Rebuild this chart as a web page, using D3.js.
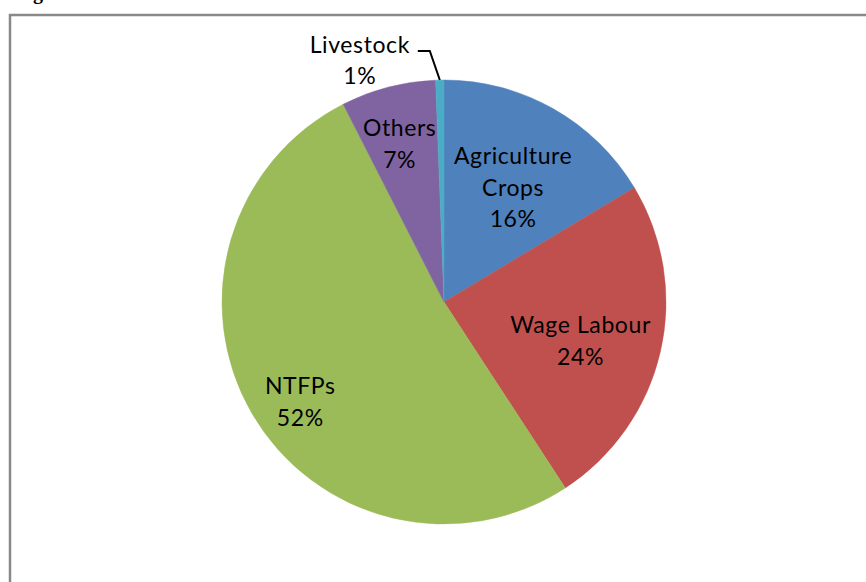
<!DOCTYPE html>
<html>
<head>
<meta charset="utf-8">
<script src="https://cdn.jsdelivr.net/npm/d3@7"></script>
<style>
  html, body { margin: 0; padding: 0; background: #fff; overflow: hidden; }
  svg { display: block; }
</style>
</head>
<body>
<svg id="chart" width="866" height="582"></svg>
<script>
// slice data, clockwise from 12 o'clock
const categories = ["Agriculture Crops", "Wage Labour", "NTFPs", "Others", "Livestock"];
const values = [16.4, 24.4, 51.7, 6.9, 0.6];
const percentLabels = ["16%", "24%", "52%", "7%", "1%"];
const nameLines = [["Agriculture", "Crops"], ["Wage Labour"], ["NTFPs"], ["Others"], ["Livestock"]];
const colors = ["#4F81BD", "#C0504D", "#9BBB59", "#8064A2", "#4BACC6"];

const width = 866, height = 582;
const cx = 444, cy = 302, radius = 222;
const lineGap = 31.5;

// label placement: radius factor + small nudge (Excel labels were hand moved)
const labelPos = [
  { k: 0.6, dx: 3.5, dy: 1.7 },
  { k: 0.585, dx: 10, dy: 10 },
  { k: 0.79, dx: 8, dy: 12 },
  { k: 0.74, dx: -3, dy: 1 },
  null // outside, with leader line
];

const svg = d3.select("#chart");

// cut-off caption above the frame (only its descender shows, as in the original)
svg.append("text")
  .attr("x", 33)
  .attr("y", -1)
  .attr("font-family", "Liberation Serif")
  .attr("font-weight", "bold")
  .attr("font-size", 20)
  .text("g");

// chart frame (runs past the right and bottom edges)
svg.append("rect")
  .attr("x", 10)
  .attr("y", 15)
  .attr("width", 900)
  .attr("height", 620)
  .attr("fill", "none")
  .attr("stroke", "#898989")
  .attr("stroke-width", 2.5);

const pie = d3.pie().sort(null).value((d) => d)(values);
const arc = d3.arc().innerRadius(0).outerRadius(radius);

const g = svg.append("g").attr("transform", `translate(${cx},${cy})`);

g.selectAll("path.slice")
  .data(pie)
  .enter()
  .append("path")
  .attr("class", "slice")
  .attr("d", arc)
  .attr("fill", (d, i) => colors[i])
  .attr("stroke", (d, i) => colors[i])
  .attr("stroke-width", 0.5);

function polar(angle, r) {
  return [Math.sin(angle) * r, -Math.cos(angle) * r];
}

function drawLabel(lines, x, y) {
  // y = visual centre of the block
  const t = g.append("text")
    .attr("text-anchor", "middle")
    .attr("font-family", "Lato")
    .attr("font-size", 23)
    .attr("letter-spacing", 0.6)
    .attr("fill", "#000");
  const n = lines.length;
  lines.forEach((s, j) => {
    t.append("tspan")
      .attr("x", x)
      .attr("y", y + (j - (n - 1) / 2) * lineGap + 8)
      .text(s);
  });
  return t;
}

pie.forEach((d, i) => {
  const mid = (d.startAngle + d.endAngle) / 2;
  const lines = nameLines[i].concat([percentLabels[i]]);
  const p = labelPos[i];
  if (p) {
    const [x, y] = polar(mid, radius * p.k);
    drawLabel(lines, x + p.dx, y + p.dy);
  } else {
    // outside label with leader
    const [ex, ey] = polar(mid, radius);
    const elbow = [ex - 10, ey - 29];
    const start = [elbow[0] - 12, elbow[1]];
    g.append("path")
      .attr("d", d3.line()([start, elbow, [ex, ey]]))
      .attr("fill", "none")
      .attr("stroke", "#000")
      .attr("stroke-width", 2);
    drawLabel(lines, ex - 80, ey - 19.5);
  }
});
</script>
</body>
</html>
